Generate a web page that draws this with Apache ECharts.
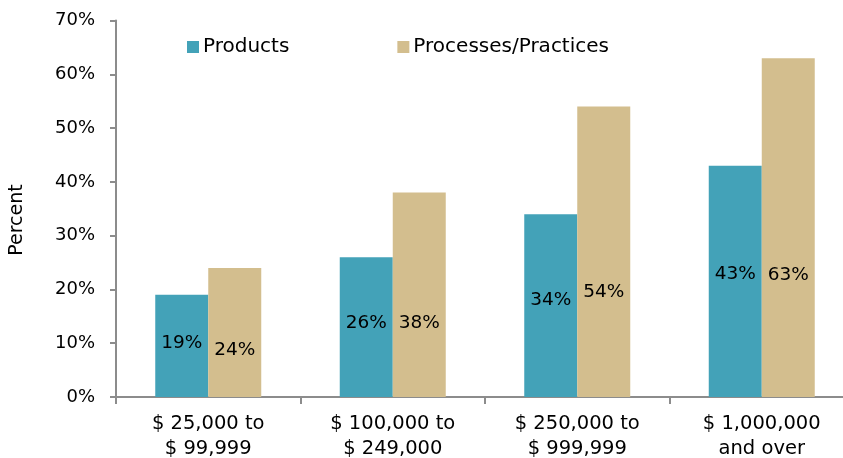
<!DOCTYPE html>
<html>
<head>
<meta charset="utf-8">
<script src="https://cdn.jsdelivr.net/npm/echarts@6/dist/echarts.min.js"></script>
<style>html,body{margin:0;padding:0;background:#fff}#c{width:843px;height:458px}</style>
</head>
<body>
<div id="c"></div>
<script>
const categories = ['$ 25,000 to\n$ 99,999', '$ 100,000 to\n$ 249,000', '$ 250,000 to\n$ 999,999', '$ 1,000,000\nand over'];
const products = [19, 26, 34, 43];
const processes = [24, 38, 54, 63];
const yTicks = [0, 10, 20, 30, 40, 50, 60, 70];
const yTitle = 'Percent';

const FONT = 'DejaVu Sans';
const chart = echarts.init(document.getElementById('c'), null, {renderer: 'canvas'});
chart.setOption({
  animation: false,
  textStyle: {fontFamily: FONT},
  legend: {
    top: 37,
    left: 187,
    padding: 0,
    itemWidth: 12,
    itemHeight: 12,
    itemGap: 108,
    icon: 'rect',
    textStyle: {fontFamily: FONT, fontSize: 20, color: '#000', padding: [0, 0, 0, -1]},
    data: ['Products', 'Processes/Practices']
  },
  grid: {left: 116, width: 738, top: 20.5, bottom: 61, containLabel: false, outerBoundsMode: 'none'},
  graphic: [{
    type: 'text',
    x: 17, y: 220,
    rotation: Math.PI / 2,
    style: {text: yTitle, fontFamily: FONT, fontSize: 19, fill: '#000', align: 'center', verticalAlign: 'middle'}
  }],
  xAxis: {
    type: 'category',
    data: categories,
    axisLine: {lineStyle: {color: '#8c8c8c', width: 2}},
    axisTick: {show: true, alignWithLabel: false, length: 7, lineStyle: {color: '#8c8c8c', width: 2}},
    axisLabel: {fontFamily: FONT, fontSize: 19.5, color: '#000', margin: 14, lineHeight: 25}
  },
  yAxis: {
    type: 'value',
    min: yTicks[0],
    max: yTicks[yTicks.length - 1],
    interval: 10,
    splitLine: {show: false},
    axisLine: {show: true, lineStyle: {color: '#8c8c8c', width: 2}},
    axisTick: {show: true, inside: false, length: 6, lineStyle: {color: '#8c8c8c', width: 2}},
    axisLabel: {fontFamily: FONT, fontSize: 18, color: '#000', margin: 21, formatter: '{value}%'}
  },
  series: [
    {
      name: 'Products',
      type: 'bar',
      data: products,
      barWidth: 53,
      barGap: '0%',
      itemStyle: {color: '#43A2B8'},
      label: {show: true, position: ['50%', '47%'], align: 'center', verticalAlign: 'middle', fontFamily: FONT, fontSize: 18.5, color: '#000', formatter: '{c}%'}
    },
    {
      name: 'Processes/Practices',
      type: 'bar',
      data: processes,
      barWidth: 53,
      barGap: '0%',
      itemStyle: {color: '#D3BE8E'},
      label: {show: true, position: ['50%', '64%'], align: 'center', verticalAlign: 'middle', fontFamily: FONT, fontSize: 18.5, color: '#000', formatter: '{c}%'}
    }
  ]
});
</script>
</body>
</html>
